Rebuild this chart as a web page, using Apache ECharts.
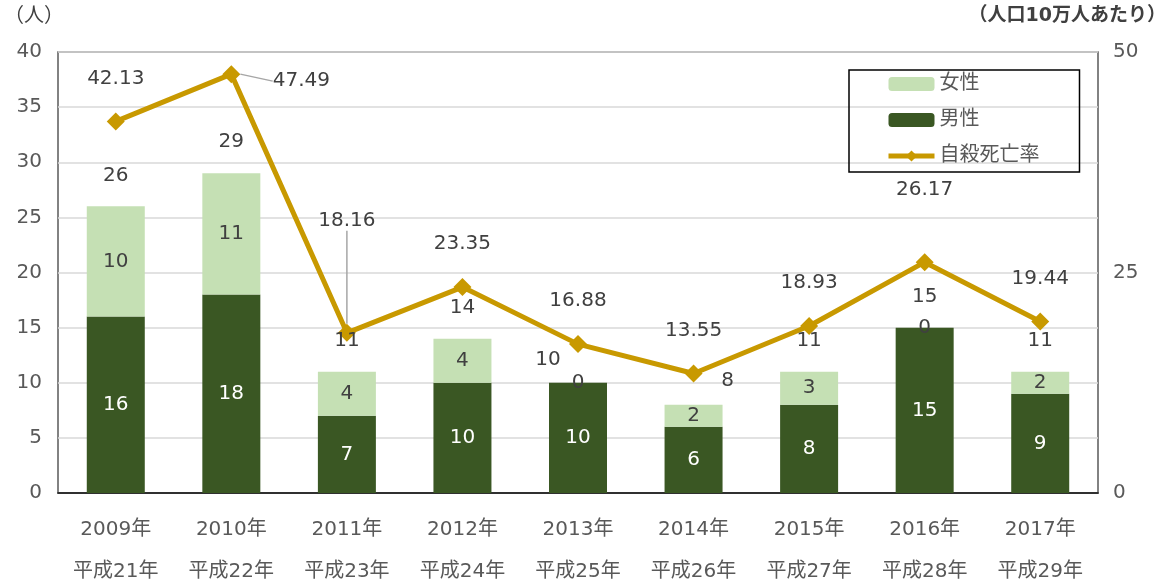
<!DOCTYPE html>
<html><head><meta charset="utf-8">
<script src="https://cdn.jsdelivr.net/npm/echarts@6/dist/echarts.min.js"></script>
<style>html,body{margin:0;padding:0;background:#fff}#c{width:1171px;height:582px}</style>
</head><body><div id="c"></div>
<script>
const years = ['2009年','2010年','2011年','2012年','2013年','2014年','2015年','2016年','2017年'];
const heisei = ['平成21年','平成22年','平成23年','平成24年','平成25年','平成26年','平成27年','平成28年','平成29年'];
const male = [16,18,7,10,10,6,8,15,9];
const female = [10,11,4,4,0,2,3,0,2];
const total = [26,29,11,14,10,8,11,15,11];
const rate = [42.13,47.49,18.16,23.35,16.88,13.55,18.93,26.17,19.44];
const leftTicks = [0,5,10,15,20,25,30,35,40];
const rightTicks = [0,25,50];

const FONT = "'DejaVu Sans','Noto Sans CJK JP',sans-serif";
const categories = years.map((y,i)=>y+'\n'+heisei[i]);

const totalData = total.map((v,i)=>{
  if(i===4) return {value:v,label:{offset:[-30,8]}};
  if(i===5) return {value:v,label:{offset:[34,7]}};
  return v;
});
const rateData = rate.map((v,i)=>{
  if(i===7) return {value:v,label:{distance:53}};
  if(i===1 || i===2) return {value:v,labelLine:{show:true,lineStyle:{color:'#a6a6a6',width:1.5}}};
  return v;
});

const chart = echarts.init(document.getElementById('c'),null,{renderer:'canvas'});
chart.setOption({
  animation:false,
  textStyle:{fontFamily:FONT},
  grid:{left:58,right:73,top:52,bottom:89,outerBoundsMode:'none',containLabel:false,
        show:true,borderColor:'#595959',borderWidth:1.5,backgroundColor:'transparent'},
  legend:{
    data:['女性','男性',{name:'自殺死亡率'}],
    orient:'vertical',left:849,top:70,
    padding:[3,40,5,37],
    itemWidth:46,itemHeight:14,itemGap:14,
    borderColor:'#000',borderWidth:1.5,
    lineStyle:{width:5},
    textStyle:{fontSize:20,color:'#595959',fontFamily:FONT,lineHeight:22}
  },
  graphic:[
    {type:'text',left:4,top:7,style:{text:'（人）',font:"20px "+FONT,fill:'#404040'}},
    {type:'text',right:5,top:7,style:{text:'（人口10万人あたり）',font:"bold 19px "+FONT,fill:'#404040'}}
  ],
  xAxis:{
    type:'category',data:categories,
    axisLine:{lineStyle:{color:'#000',width:1.5}},
    axisTick:{show:false},
    axisLabel:{fontSize:20,color:'#595959',lineHeight:42,margin:16,fontFamily:FONT}
  },
  yAxis:[
    {type:'value',min:0,max:40,interval:5,
     axisLine:{show:false},axisTick:{show:false},
     splitLine:{lineStyle:{color:'#d9d9d9',width:1.5}},
     axisLabel:{fontSize:20,color:'#595959',margin:16,fontFamily:FONT,
       formatter:v=>leftTicks.includes(v)?String(v):''}},
    {type:'value',min:0,max:50,interval:25,
     axisLine:{show:false},axisTick:{show:false},splitLine:{show:false},
     axisLabel:{fontSize:20,color:'#595959',margin:15,fontFamily:FONT,
       formatter:v=>rightTicks.includes(v)?String(v):''}}
  ],
  series:[
    {name:'男性',type:'bar',stack:'t',data:male,barWidth:58,
     itemStyle:{color:'#3A5723'},
     label:{show:true,position:'inside',color:'#fff',fontSize:20,fontFamily:FONT}},
    {name:'女性',type:'bar',stack:'t',data:female,barWidth:58,
     itemStyle:{color:'#C5E0B4'},
     label:{show:true,position:'inside',color:'#404040',fontSize:20,fontFamily:FONT}},
    {name:'合計',type:'scatter',data:totalData,symbolSize:0,silent:true,z:5,
     itemStyle:{opacity:1},
     label:{show:true,position:'top',distance:21,color:'#404040',opacity:1,fontSize:20,fontFamily:FONT,formatter:'{c}'}},
    {name:'自殺死亡率',type:'line',yAxisIndex:1,data:rateData,z:4,
     lineStyle:{color:'#C89900',width:5},
     itemStyle:{color:'#C89900'},
     symbol:'diamond',symbolSize:18,
     label:{show:true,position:'top',distance:24,color:'#404040',fontSize:20,fontFamily:FONT},
     labelLine:{show:false,lineStyle:{color:'#a6a6a6',width:1.5}},
     labelLayout:function(p){
       if(p.dataIndex===1) return {dx:70,dy:50};
       if(p.dataIndex===2) return {dx:0,dy:-69};
       return {};
     }}
  ]
});
</script></body></html>
